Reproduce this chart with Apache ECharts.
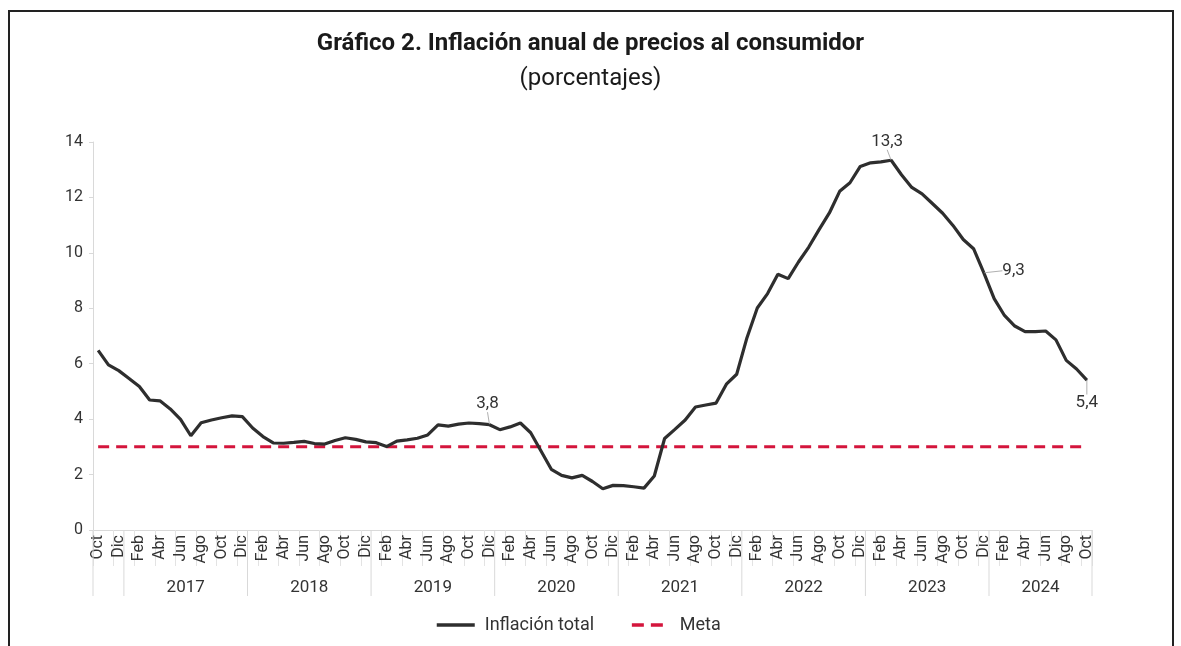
<!DOCTYPE html>
<html>
<head>
<meta charset="utf-8">
<script src="https://cdn.jsdelivr.net/npm/echarts@6/dist/echarts.min.js"></script>
<style>
  html, body { margin: 0; padding: 0; background: #fff; }
  #chart { width: 1181px; height: 646px; }
</style>
</head>
<body>
<div id="chart"></div>
<script>
// months shown on the axis (Oct 2016 .. Oct 2024)
var monthNames = ["Ene", "Feb", "Mar", "Abr", "May", "Jun", "Jul", "Ago", "Sep", "Oct", "Nov", "Dic"];
var firstYear = 2016, firstMonth = 9; // Oct 2016
var nMonths = 97;

// inflacion anual (%), por año
var infl2016 = [6.48, 5.96, 5.75];
var infl2017 = [5.47, 5.18, 4.69, 4.66, 4.37, 3.99, 3.40, 3.87, 3.97, 4.05, 4.12, 4.09];
var infl2018 = [3.68, 3.37, 3.14, 3.13, 3.16, 3.20, 3.12, 3.10, 3.23, 3.33, 3.27, 3.18];
var infl2019 = [3.15, 3.01, 3.21, 3.25, 3.31, 3.43, 3.79, 3.75, 3.82, 3.86, 3.84, 3.80];
var infl2020 = [3.62, 3.72, 3.86, 3.51, 2.85, 2.19, 1.97, 1.88, 1.97, 1.75, 1.49, 1.61];
var infl2021 = [1.60, 1.56, 1.51, 1.95, 3.30, 3.63, 3.97, 4.44, 4.51, 4.58, 5.26, 5.62];
var infl2022 = [6.94, 8.01, 8.53, 9.23, 9.07, 9.67, 10.21, 10.84, 11.44, 12.22, 12.53, 13.12];
var infl2023 = [13.25, 13.28, 13.34, 12.82, 12.36, 12.13, 11.78, 11.43, 10.99, 10.48, 10.15, 9.28];
var infl2024 = [8.35, 7.74, 7.36, 7.16, 7.16, 7.18, 6.86, 6.12, 5.81, 5.41];

var metaTarget = 3;

// year groups on the second label row: [first month index, last month index, label]
var yearGroups = [
  [0, 2, ""],
  [3, 14, "2017"],
  [15, 26, "2018"],
  [27, 38, "2019"],
  [39, 50, "2020"],
  [51, 62, "2021"],
  [63, 74, "2022"],
  [75, 86, "2023"],
  [87, 96, "2024"]
];

// labelled points: index -> placement
var labelled = { 38: "top", 77: "top", 86: "right", 96: "bottom" };
var labelShift = {
  38: { dx: -2, dy: -8 },
  77: { dx: -4, dy: -6 },
  86: { dx: 14, dy: -2 },
  96: { dx: 0, dy: 10 }
};

var inflation = [].concat(infl2016, infl2017, infl2018, infl2019, infl2020,
  infl2021, infl2022, infl2023, infl2024);

var categories = [];
for (var i = 0; i < nMonths; i++) {
  var m = (firstMonth + i) % 12;
  var y = firstYear + Math.floor((firstMonth + i) / 12);
  categories.push(monthNames[m] + " " + y);
}

function fmt(v) {
  return v.toFixed(1).replace(".", ",");
}

var inflData = inflation.map(function (v, i) {
  if (labelled[i]) {
    return {
      value: v,
      symbol: "circle",
      symbolSize: 1,
      label: { show: true, position: labelled[i], distance: 4 }
    };
  }
  return v;
});

var chart = echarts.init(document.getElementById("chart"), null, { renderer: "canvas" });

var option = {
  animation: false,
  backgroundColor: "#fff",
  textStyle: { fontFamily: "Roboto", color: "#333" },
  title: [
    {
      text: "Gráfico 2. Inflación anual de precios al consumidor",
      left: "center",
      top: 27,
      textStyle: { fontSize: 24, fontWeight: "bold", color: "#1a1a1a", fontFamily: "Roboto" }
    },
    {
      text: "(porcentajes)",
      left: "center",
      top: 62,
      textStyle: { fontSize: 24, fontWeight: "normal", color: "#1a1a1a", fontFamily: "Roboto" }
    }
  ],
  graphic: [
    {
      type: "rect",
      shape: { x: 9, y: 11, width: 1164, height: 700 },
      style: { fill: "none", stroke: "#222", lineWidth: 2 },
      silent: true
    }
  ],
  legend: {
    bottom: 7,
    left: 430,
    itemWidth: 38,
    itemHeight: 14,
    itemGap: 36,
    data: [
      { name: "Inflación total" },
      { name: "Meta", lineStyle: { type: [12, 7] } }
    ],
    lineStyle: { width: 3.5 },
    itemStyle: { opacity: 0 },
    textStyle: { fontSize: 18, color: "#333", padding: [0, 0, 0, 5] }
  },
  grid: { left: 93, right: 89, top: 142, bottom: 116 },
  xAxis: {
    type: "category",
    data: categories,
    boundaryGap: true,
    axisLine: { lineStyle: { color: "#d9d9d9", width: 1 } },
    axisTick: {
      show: true,
      interval: 1,
      length: 36,
      lineStyle: { color: "#e3e3e3", width: 1 }
    },
    axisLabel: {
      interval: 1,
      rotate: 90,
      margin: 5,
      fontSize: 16,
      color: "#333",
      formatter: function (v) { return v.split(" ")[0]; }
    }
  },
  yAxis: {
    type: "value",
    min: 0,
    max: 14,
    interval: 2,
    axisLine: { show: true, lineStyle: { color: "#d9d9d9" } },
    axisTick: { show: true, length: 4, lineStyle: { color: "#d9d9d9" } },
    splitLine: { show: false },
    axisLabel: { fontSize: 16, color: "#333", margin: 10 }
  },
  series: [
    {
      name: "Meta",
      type: "line",
      data: [[categories[0], metaTarget], [categories[nMonths - 1], metaTarget]],
      symbol: "none",
      z: 2,
      lineStyle: { color: "#d4153c", width: 3, type: [11, 7] },
      itemStyle: { color: "#d4153c" }
    },
    {
      name: "Inflación total",
      type: "line",
      data: inflData,
      symbol: "none",
      z: 3,
      lineStyle: { color: "#2e2e2e", width: 3.2 },
      itemStyle: { color: "#2e2e2e" },
      label: {
        show: false,
        fontSize: 17,
        color: "#333",
        formatter: function (p) { return fmt(p.value); }
      },
      labelLine: { show: true, lineStyle: { color: "#b0b0b0", width: 1 } },
      labelLayout: function (p) {
        return labelShift[p.dataIndex] || {};
      }
    },
    {
      name: "years",
      type: "custom",
      silent: true,
      clip: false,
      data: yearGroups.map(function (g) { return [g[0], 0, g[1]]; }),
      encode: { x: 0, y: 1 },
      renderItem: function (params, api) {
        var g = yearGroups[params.dataIndex];
        var bw = api.size([1, 0])[0];
        var pStart = api.coord([g[0], 0]);
        var pEnd = api.coord([g[1], 0]);
        var x0 = pStart[0] - bw / 2;
        var x1 = pEnd[0] + bw / 2;
        var yAxisPos = pStart[1];
        var children = [
          {
            type: "line",
            shape: { x1: x0, y1: yAxisPos, x2: x0, y2: yAxisPos + 66 },
            style: { stroke: "#d9d9d9", lineWidth: 1 }
          },
          {
            type: "text",
            style: {
              text: g[2],
              x: (x0 + x1) / 2,
              y: yAxisPos + 58,
              align: "center",
              verticalAlign: "middle",
              fontSize: 17,
              fontFamily: "Roboto",
              fill: "#333"
            }
          }
        ];
        if (params.dataIndex === yearGroups.length - 1) {
          children.push({
            type: "line",
            shape: { x1: x1, y1: yAxisPos, x2: x1, y2: yAxisPos + 66 },
            style: { stroke: "#d9d9d9", lineWidth: 1 }
          });
        }
        return { type: "group", children: children };
      }
    }
  ]
};

chart.setOption(option);
</script>
</body>
</html>
